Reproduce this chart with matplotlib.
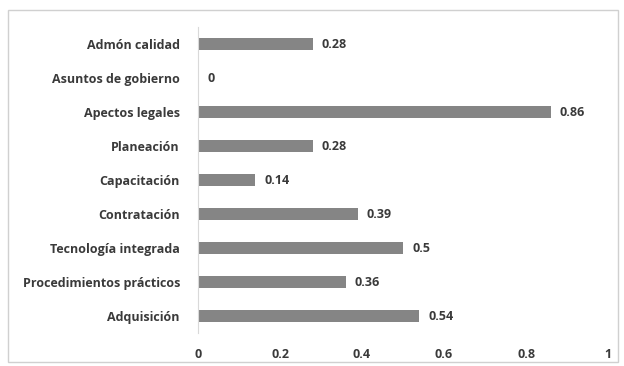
import matplotlib
matplotlib.use("Agg")
import matplotlib.pyplot as plt
from matplotlib.patches import Rectangle

categorias = ["Admón calidad", "Asuntos de gobierno", "Apectos legales", "Planeación",
              "Capacitación", "Contratación", "Tecnología integrada",
              "Procedimientos prácticos", "Adquisición"]
valores = [0.28, 0, 0.86, 0.28, 0.14, 0.39, 0.5, 0.36, 0.54]
ticks_x = [0, 0.2, 0.4, 0.6, 0.8, 1]
etiquetas_x = ["0", "0.2", "0.4", "0.6", "0.8", "1"]

plt.rcParams['font.family'] = ['Open Sans', 'DejaVu Sans']
texto = "#3a3a3a"
fs = 9

fig = plt.figure(figsize=(6.24, 3.66), dpi=100)
ax = fig.add_axes([198/624, 1 - 333/366, 410/624, 306/366])

pos = list(range(len(categorias)))
ax.barh(pos, valores, height=0.36, color="#858585")
for y, v in zip(pos, valores):
    ax.text(v + 0.022, y, f"{v:g}", va="center", ha="left", fontsize=fs,
            fontweight="bold", color=texto)

ax.set_ylim(len(categorias) - 0.5, -0.5)
ax.set_xlim(0, 1)
ax.set_yticks(pos)
ax.set_yticklabels(categorias, fontsize=fs, fontweight="bold", color=texto)
ax.set_xticks(ticks_x)
ax.set_xticklabels(etiquetas_x, fontsize=fs, fontweight="bold", color=texto)
ax.tick_params(axis="both", length=0)
ax.tick_params(axis="y", pad=13)
ax.tick_params(axis="x", pad=11)

for s in ["top", "right", "bottom"]:
    ax.spines[s].set_visible(False)
ax.spines["left"].set_color("#d9d9d9")

# marco exterior
fig.patches.append(Rectangle((8/624, 1 - 362/366), 610/624, 352/366,
                             transform=fig.transFigure, fill=False,
                             edgecolor="#d0d0d0", linewidth=1))

fig.savefig("out.png", dpi=100)
